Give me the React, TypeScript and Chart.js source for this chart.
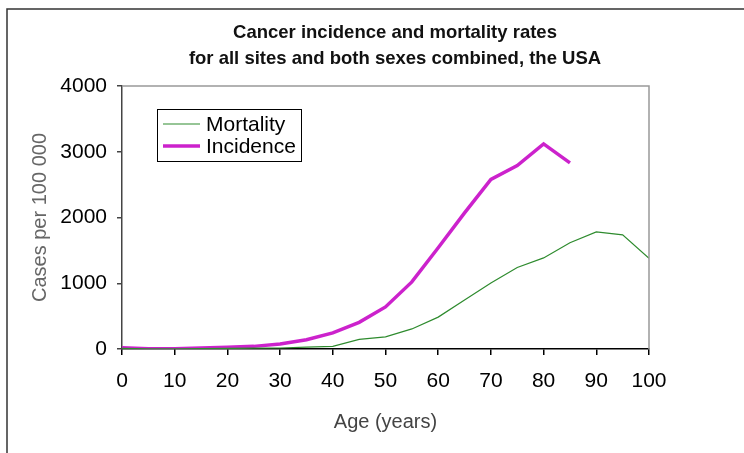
import React, { useEffect, useRef } from "react";
import { Chart, registerables } from "chart.js";

Chart.register(...registerables);

// Age groups (years) and rates per 100 000
const ages = [0, 5, 10, 15, 20, 25, 30, 35, 40, 45, 50, 55, 60, 65, 70, 75, 80, 85, 90, 95, 100];
const mortality = [10, 3, 3, 5, 8, 12, 15, 30, 40, 145, 185, 305, 485, 745, 1005, 1240, 1385, 1615, 1780, 1735, 1380];
const incidence = [20, 5, 5, 15, 25, 40, 75, 140, 245, 405, 640, 1020, 1540, 2070, 2580, 2790, 3120, 2830];

const titleLines = ["Cancer incidence and mortality rates", "for all sites and both sexes combined, the USA"];
const xTicks = [0, 10, 20, 30, 40, 50, 60, 70, 80, 90, 100];
const yTicks = [0, 1000, 2000, 3000, 4000];

const FONT = "'Liberation Sans', Arial, sans-serif";

const framePlugin = {
  id: "frame",
  beforeDraw(chart: any) {
    const { ctx, width, height } = chart;
    ctx.save();
    ctx.fillStyle = "#ffffff";
    ctx.fillRect(0, 0, width, height);
    ctx.strokeStyle = "#333333";
    ctx.lineWidth = 1.5;
    ctx.beginPath();
    ctx.moveTo(7, height);
    ctx.lineTo(7, 9);
    ctx.lineTo(width, 9);
    ctx.stroke();
    // two-line heading
    ctx.fillStyle = "#111111";
    ctx.font = `bold 18.5px ${FONT}`;
    ctx.textAlign = "center";
    ctx.textBaseline = "middle";
    ctx.fillText(titleLines[0], 395, 33);
    ctx.fillText(titleLines[1], 395, 59);
    ctx.restore();
  },
  afterDatasetsDraw(chart: any) {
    const { ctx, chartArea } = chart;
    ctx.save();
    // plot area border on top and right
    ctx.strokeStyle = "#999999";
    ctx.lineWidth = 1.5;
    ctx.beginPath();
    ctx.moveTo(chartArea.left, chartArea.top);
    ctx.lineTo(chartArea.right, chartArea.top);
    ctx.lineTo(chartArea.right, chartArea.bottom);
    ctx.stroke();

    // legend box
    const bx = 157, by = 109, bw = 144, bh = 52;
    ctx.fillStyle = "#ffffff";
    ctx.fillRect(bx, by, bw, bh);
    ctx.strokeStyle = "#000000";
    ctx.lineWidth = 1;
    ctx.strokeRect(bx + 0.5, by + 0.5, bw, bh);
    const rows = [124, 146];
    chart.data.datasets.forEach((ds: any, i: number) => {
      const y = rows[i];
      ctx.strokeStyle = ds.borderColor;
      ctx.lineWidth = ds.borderWidth;
      ctx.beginPath();
      ctx.moveTo(163, y);
      ctx.lineTo(200, y);
      ctx.stroke();
      ctx.fillStyle = "#000000";
      ctx.font = `21px ${FONT}`;
      ctx.textAlign = "left";
      ctx.textBaseline = "middle";
      ctx.fillText(ds.label, 206, y + 1);
    });
    ctx.restore();
  },
};

export default function App() {
  const ref = useRef<HTMLCanvasElement | null>(null);

  useEffect(() => {
    if (!ref.current) return;
    const chart = new Chart(ref.current, {
      type: "line",
      data: {
        datasets: [
          {
            label: "Mortality",
            data: mortality.map((v, i) => ({ x: ages[i], y: v })),
            borderColor: "#2e8b2e",
            borderWidth: 1.2,
            pointRadius: 0,
            tension: 0,
            fill: false,
          },
          {
            label: "Incidence",
            data: incidence.map((v, i) => ({ x: ages[i], y: v })),
            borderColor: "#cc22cc",
            borderWidth: 3.5,
            pointRadius: 0,
            tension: 0,
            fill: false,
          },
        ],
      },
      options: {
        responsive: false,
        animation: false,
        layout: { padding: { top: 86, right: 95, left: 0, bottom: 0 } },
        plugins: {
          legend: { display: false },
          title: { display: false },
          tooltip: { enabled: false },
        },
        scales: {
          x: {
            type: "linear",
            min: 0,
            max: 100,
            afterBuildTicks: (scale: any) => {
              scale.ticks = xTicks.map((v) => ({ value: v }));
            },
            afterFit: (scale: any) => {
              scale.height = 104;
            },
            ticks: {
              color: "#000000",
              font: { family: FONT, size: 21 },
              padding: 14,
              maxRotation: 0,
              autoSkip: false,
              callback: (v: any) => String(v),
            },
            grid: { drawOnChartArea: false, tickLength: 6, color: "#000000", lineWidth: 1.5 },
            border: { color: "#000000", width: 1.5 },
            title: {
              display: true,
              text: "Age (years)",
              color: "#444444",
              font: { family: FONT, size: 20 },
              padding: { top: 0, bottom: 19 },
            },
          },
          y: {
            type: "linear",
            min: 0,
            max: 4000,
            afterBuildTicks: (scale: any) => {
              scale.ticks = yTicks.map((v) => ({ value: v }));
            },
            afterFit: (scale: any) => {
              scale.width = 122;
            },
            ticks: {
              color: "#000000",
              font: { family: FONT, size: 21 },
              padding: 10,
              callback: (v: any) => String(v),
            },
            grid: { drawOnChartArea: false, tickLength: 5, color: "#444444", lineWidth: 1.5 },
            border: { color: "#444444", width: 1.5 },
            title: {
              display: true,
              text: "Cases per 100 000",
              color: "#666666",
              font: { family: FONT, size: 20 },
              padding: { top: 28, bottom: 0 },
            },
          },
        },
      },
      plugins: [framePlugin],
    });
    return () => chart.destroy();
  }, []);

  return (
    <div style={{ position: "fixed", left: 0, top: 0, width: 744, height: 453, background: "#fff" }}>
      <canvas ref={ref} width={744} height={453} style={{ width: 744, height: 453, display: "block" }} />
    </div>
  );
}
